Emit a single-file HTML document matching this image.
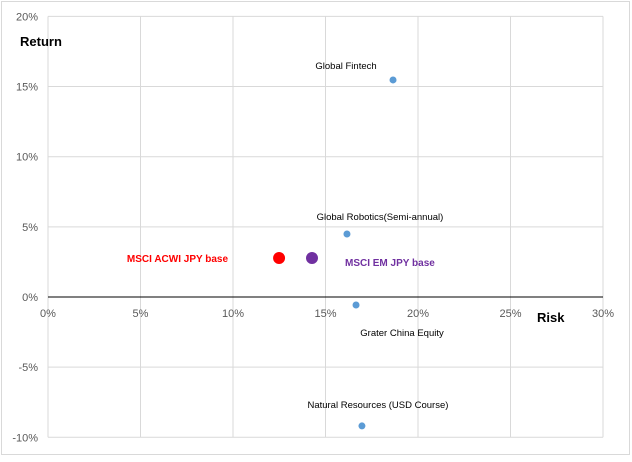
<!DOCTYPE html>
<html><head><meta charset="utf-8"><style>
body{margin:0;background:#fff;font-family:"Liberation Sans",sans-serif;}
svg text{font-family:"Liberation Sans",sans-serif;}
</style></head><body>
<svg id="chart" width="632" height="457" xmlns="http://www.w3.org/2000/svg">
<rect x="1.5" y="1.5" width="628" height="453" fill="#fff" stroke="#d9d9d9"/>
<g id="grid"></g><g id="marks"></g>
<text x="20" y="46" font-size="13" font-weight="bold">Return</text>
<text x="537" y="322" font-size="13" font-weight="bold">Risk</text>
</svg>
<script>
const names=["Global Fintech","Global Robotics(Semi-annual)","MSCI ACWI JPY base","MSCI EM JPY base","Grater China Equity","Natural Resources (USD Course)"];
const risk=[18.65,16.16,12.49,14.27,16.65,16.97];
const ret=[15.47,4.49,2.78,2.78,-0.57,-9.19];
const xTicks=[0,5,10,15,20,25,30];
const yTicks=[-10,-5,0,5,10,15,20];
const X=v=>48+v*18.5, Y=v=>297-v*14.03;
const NS="http://www.w3.org/2000/svg";
const grid=document.getElementById('grid'),marks=document.getElementById('marks');
function mk(tag,attrs,parent,txt){const e=document.createElementNS(NS,tag);for(const k in attrs)e.setAttribute(k,attrs[k]);if(txt!==undefined)e.textContent=txt;parent.appendChild(e);return e;}
xTicks.forEach(t=>{
 const l=mk('line',{x1:X(t),x2:X(t),y1:Y(20),y2:Y(-10),stroke:'#d9d9d9'},grid);
 
 
 const tx=mk('text',{x:X(t),y:317,'font-size':11,fill:'#595959','text-anchor':'middle'},grid,t+'%');
 
 
});
yTicks.forEach(t=>{
 const l=mk('line',{x1:X(0),x2:X(30),y1:Y(t),y2:Y(t),stroke:t===0?'#000':'#d9d9d9'},grid);
 
 
 const tx=mk('text',{x:38,y:Y(t)+4,'font-size':11,fill:'#595959','text-anchor':'end'},grid,t+'%');
 
 
});
const style=[
 {r:3.5,c:'#5b9bd5',dx:-47,dy:-11,a:'middle',lc:'#000',b:false},
 {r:3.5,c:'#5b9bd5',dx:33,dy:-14,a:'middle',lc:'#000',b:false},
 {r:6,c:'#ff0000',dx:-51,dy:4,a:'end',lc:'#ff0000',b:true},
 {r:6,c:'#7030a0',dx:33,dy:8,a:'start',lc:'#7030a0',b:true},
 {r:3.5,c:'#5b9bd5',dx:46,dy:31,a:'middle',lc:'#000',b:false},
 {r:3.5,c:'#5b9bd5',dx:16,dy:-18,a:'middle',lc:'#000',b:false}];
names.forEach((n,i)=>{
 const s=style[i],cx=X(risk[i]),cy=Y(ret[i]);
 const c=mk('circle',{cx:cx,cy:cy,r:s.r,fill:s.c},marks);
 
 
 const t=mk('text',{x:cx+s.dx,y:cy+s.dy,'font-size':s.b?10:9.5,'font-weight':s.b?'bold':'normal',fill:s.lc,'text-anchor':s.a},marks,n);
 
 
});
</script>
</body></html>
